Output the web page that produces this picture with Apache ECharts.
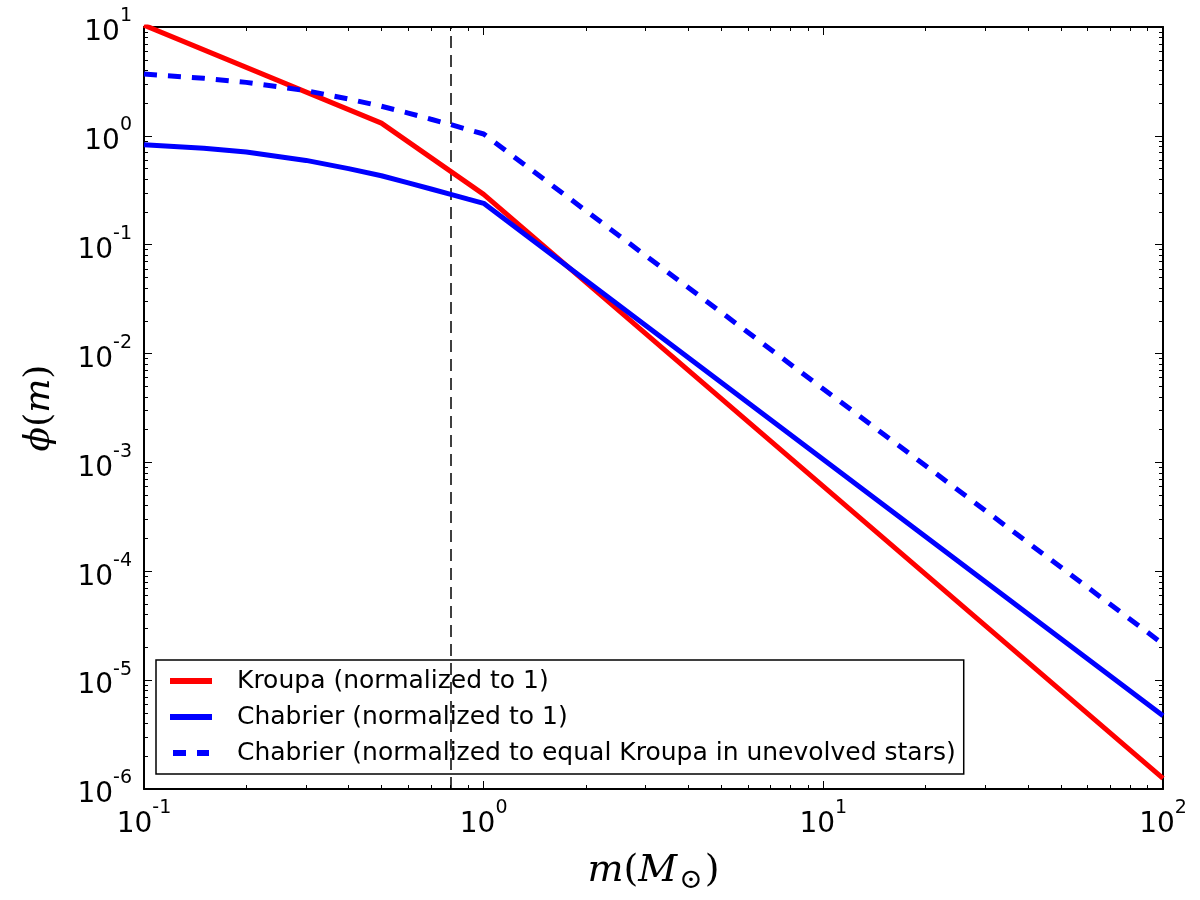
<!DOCTYPE html>
<html>
<head>
<meta charset="utf-8">
<script src="https://cdn.jsdelivr.net/npm/echarts@6/dist/echarts.min.js"></script>
<style>
  html, body { margin: 0; background: #fff; }
  #chart { width: 1200px; height: 900px; }
</style>
</head>
<body>
<div id="chart"></div>
<script>
// values (mass in solar masses, phi(m))
const kroupaMass = [0.1, 0.5, 1.0, 100];
const kroupaPhi = [10.4, 1.31, 0.29, 1.25e-6];

const chabMass = [0.1, 0.15, 0.2, 0.3, 0.4, 0.5, 0.6, 0.7, 0.8, 0.9, 1.0, 100];
const chabPhi = [0.83, 0.77, 0.71, 0.595, 0.50, 0.43, 0.37, 0.325, 0.29, 0.262, 0.24, 4.7e-6];
const chabEqPhi = [3.7, 3.38, 3.1, 2.6, 2.18, 1.87, 1.62, 1.42, 1.27, 1.14, 1.04, 2.15e-5];

const cutMass = 0.8;

const xExponents = [-1, 0, 1, 2];
const yExponents = [-6, -5, -4, -3, -2, -1, 0, 1];

const seriesNames = [
  'Kroupa (normalized to 1)',
  'Chabrier (normalized to 1)',
  'Chabrier (normalized to equal Kroupa in unevolved stars)'
];

const xMajor = xExponents.map(e => Math.pow(10, e));
const yMajor = yExponents.map(e => Math.pow(10, e));
function minorsOf(exps) {
  const out = [];
  for (let i = 0; i < exps.length - 1; i++) {
    for (let k = 2; k <= 9; k++) out.push(k * Math.pow(10, exps[i]));
  }
  return out;
}
const xMinor = minorsOf(xExponents);
const yMinor = minorsOf(yExponents);

const pair = (xs, ys) => xs.map((x, i) => [x, ys[i]]);

const expLabel = {
  formatter: function (v) {
    const e = Math.round(Math.log10(v));
    return '{b|10}{s|' + e + '}';
  },
  rich: {
    b: { fontSize: 28, fontFamily: 'DejaVu Sans', color: '#000', verticalAlign: 'bottom', padding: [12, 0, 0, 0] },
    s: { fontSize: 19, fontFamily: 'DejaVu Sans', color: '#000', verticalAlign: 'top' }
  }
};

function axis(kind, pos, opts) {
  const base = {
    type: 'log',
    logBase: 10,
    position: pos,
    min: kind === 'x' ? 0.1 : 1e-6,
    max: kind === 'x' ? 100 : 10,
    splitLine: { show: false },
    axisLine: { show: false },
    axisLabel: { show: false },
    axisTick: { show: false }
  };
  return Object.assign(base, opts);
}

const spine = { show: true, lineStyle: { color: '#000', width: 2 } };
const majorTick = (vals) => ({ show: true, inside: true, length: 8, customValues: vals, lineStyle: { color: '#000', width: 1 } });
const minorTick = (vals) => ({ show: true, inside: true, length: 4, customValues: vals, lineStyle: { color: '#000', width: 1 } });

// legend handles: plain bar for solid lines, two dashes for the dashed one
const solidIcon = 'path://M0,0h42v6h-42z';
const dashedIcon = 'path://M0,0h13v6h-13z M24,0h12v6h-12z';

const chart = echarts.init(document.getElementById('chart'));

const option = {
  animation: false,
  backgroundColor: '#fff',
  grid: { left: 144, right: 37, top: 27, bottom: 110, containLabel: false },
  xAxis: [
    axis('x', 'bottom', {
      axisLine: spine,
      axisTick: majorTick(xMajor),
      axisLabel: Object.assign({ show: true, margin: 10, customValues: xMajor }, expLabel),
      name: '{i|m}{n|(}{i|M}{sub|⊙}{n|)}',
      nameLocation: 'middle',
      nameGap: 58,
      nameTextStyle: {
        rich: {
          i: { fontSize: 38, fontStyle: 'italic', fontFamily: 'DejaVu Serif', color: '#000' },
          n: { fontSize: 38, fontFamily: 'DejaVu Serif', color: '#000' },
          sub: { fontSize: 28, fontFamily: 'DejaVu Serif', color: '#000', verticalAlign: 'bottom', padding: [20, 2, 0, 2] }
        }
      }
    }),
    axis('x', 'bottom', { axisTick: minorTick(xMinor) }),
    axis('x', 'top', { axisLine: spine, axisTick: majorTick(xMajor) }),
    axis('x', 'top', { axisTick: minorTick(xMinor) })
  ],
  yAxis: [
    axis('y', 'left', {
      axisLine: spine,
      axisTick: majorTick(yMajor),
      axisLabel: Object.assign({ show: true, margin: 12, customValues: yMajor }, expLabel),
      name: '{i|ϕ}{n|(}{i|m}{n|)}',
      nameLocation: 'middle',
      nameGap: 86,
      nameTextStyle: {
        rich: {
          i: { fontSize: 36, fontStyle: 'italic', fontFamily: 'DejaVu Serif', color: '#000' },
          n: { fontSize: 36, fontFamily: 'DejaVu Serif', color: '#000' }
        }
      }
    }),
    axis('y', 'left', { axisTick: minorTick(yMinor) }),
    axis('y', 'right', { axisLine: spine, axisTick: majorTick(yMajor) }),
    axis('y', 'right', { axisTick: minorTick(yMinor) })
  ],
  legend: {
    orient: 'vertical',
    left: 156,
    top: 660,
    padding: [6, 8, 6, 14],
    itemWidth: 42,
    itemHeight: 6,
    itemGap: 6,
    borderColor: '#000',
    borderWidth: 1.5,
    selectedMode: false,
    data: [
      { name: seriesNames[0], icon: solidIcon },
      { name: seriesNames[1], icon: solidIcon },
      { name: seriesNames[2], icon: dashedIcon }
    ],
    textStyle: {
      fontFamily: 'DejaVu Sans',
      fontSize: 25,
      lineHeight: 30,
      color: '#000',
      padding: [0, 0, 0, 20]
    }
  },
  series: [
    {
      name: seriesNames[0],
      type: 'line',
      data: pair(kroupaMass, kroupaPhi),
      symbol: 'none',
      lineStyle: { color: '#ff0000', width: 5 },
      itemStyle: { color: '#ff0000' },
      z: 3,
      markLine: {
        silent: true,
        symbol: 'none',
        label: { show: false },
        lineStyle: { color: '#000', type: [12, 7], width: 1.5 },
        data: [{ xAxis: cutMass }],
        z: 2
      }
    },
    {
      name: seriesNames[1],
      type: 'line',
      data: pair(chabMass, chabPhi),
      symbol: 'none',
      lineStyle: { color: '#0000ff', width: 5 },
      itemStyle: { color: '#0000ff' },
      z: 3
    },
    {
      name: seriesNames[2],
      type: 'line',
      data: pair(chabMass, chabEqPhi),
      symbol: 'none',
      lineStyle: { color: '#0000ff', width: 5, type: [13, 11] },
      itemStyle: { color: '#0000ff' },
      z: 3
    }
  ]
};

chart.setOption(option);
</script>
</body>
</html>
